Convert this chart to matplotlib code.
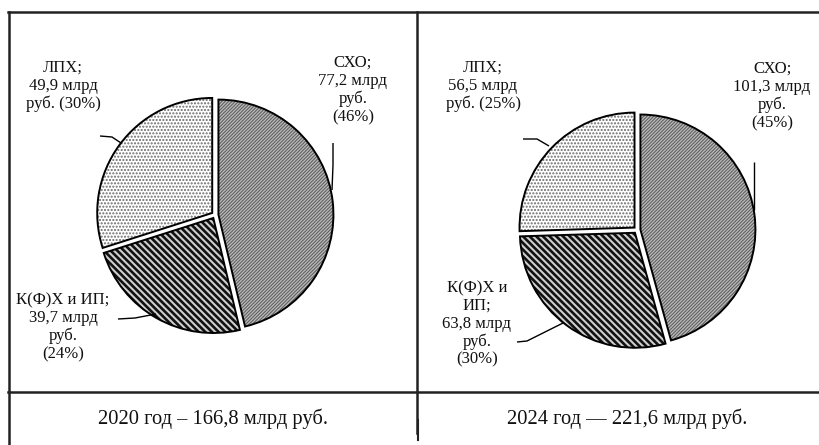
import matplotlib
matplotlib.use("Agg")
import matplotlib.pyplot as plt
import numpy as np

# ---- data ----
categories = ["СХО", "К(Ф)Х и ИП", "ЛПХ"]
values_2020 = [77.2, 39.7, 49.9]
values_2024 = [101.3, 63.8, 56.5]
pct_2020 = [46, 24, 30]
pct_2024 = [45, 30, 25]
labels_2020 = ["СХО;\n77,2 млрд\nруб.\n(46%)",
               "К(Ф)Х и ИП;\n39,7 млрд\nруб.\n(24%)",
               "ЛПХ;\n49,9 млрд\nруб. (30%)"]
labels_2024 = ["СХО;\n101,3 млрд\nруб.\n(45%)",
               "К(Ф)Х и\nИП;\n63,8 млрд\nруб.\n(30%)",
               "ЛПХ;\n56,5 млрд\nруб. (25%)"]
captions = ["2020 год – 166,8 млрд руб.", "2024 год — 221,6 млрд руб."]

plt.rcParams['font.family'] = ['Liberation Serif', 'DejaVu Serif']

W, H = 820, 445
DPI = 100
fig = plt.figure(figsize=(W / DPI, H / DPI), dpi=DPI)
fig.patch.set_facecolor('white')

R = 115.0  # pixel radius of pie

styles = [
    dict(face='#bdbdbd', hatch='/' * 10, hcolor='#5e5e5e', hlw=0.8),
    dict(face='#cfcfcf', hatch='\\' * 5, hcolor='#111111', hlw=1.9),
    dict(face='white', hatch='.' * 5, hcolor='#6a6a6a', hlw=1.0),
]


def make_axes(x0, x1, y0, y1, cx, cy):
    ax = fig.add_axes([x0 / W, 1 - y1 / H, (x1 - x0) / W, (y1 - y0) / H])
    ax.set_axis_off()
    return ax, (lambda px: (px - cx) / R), (lambda py: (cy - py) / R)


def draw_pie(ax, fx, fy, x0, x1, y0, y1, values, labels, label_pos, leaders):
    explode = [0.03] * len(values)
    wedges, _ = ax.pie(values, startangle=90, counterclock=False,
                       explode=explode, radius=1.0)
    for w, st in zip(wedges, styles):
        w.set_facecolor(st['face'])
        w.set_hatch(st['hatch'])
        w.set_edgecolor(st['hcolor'])
        w.set_linewidth(0)
        if hasattr(w, 'set_hatch_linewidth'):
            w.set_hatch_linewidth(st['hlw'])
    wedges2, _ = ax.pie(values, startangle=90, counterclock=False,
                        explode=explode, radius=1.0)
    for w in wedges2:
        w.set_facecolor('none')
        w.set_edgecolor('black')
        w.set_linewidth(1.4)
    ax.set_aspect('auto')
    ax.set_xlim(fx(x0), fx(x1))
    ax.set_ylim(fy(y1), fy(y0))
    for lab, (px, py) in zip(labels, label_pos):
        ax.text(fx(px), fy(py), lab, ha='center', va='center',
                fontsize=12, linespacing=1.15, color='#111111')
    for (p1, p2, p3) in leaders:
        xs = [fx(p[0]) for p in (p1, p2, p3)]
        ys = [fy(p[1]) for p in (p1, p2, p3)]
        ax.plot(xs, ys, color='black', lw=1.0, solid_capstyle='butt')


# Pie 2020
ax1, fx1, fy1 = make_axes(8, 417, 12, 392, 215, 215)
draw_pie(ax1, fx1, fy1, 8, 417, 12, 392, values_2020, labels_2020,
         [(353, 90), (63, 327), (63, 86)],
         [((333, 143), (333, 165), (332, 190)),
          ((118, 319), (135, 318), (156, 314)),
          ((100, 136), (112, 137), (121, 143))])

# Pie 2024
ax2, fx2, fy2 = make_axes(417, 820, 12, 392, 637, 230)
draw_pie(ax2, fx2, fy2, 417, 820, 12, 392, values_2024, labels_2024,
         [(772, 96), (477, 324), (483, 86)],
         [((754, 162), (754, 185), (754, 210)),
          ((517, 342), (527, 341), (563, 323)),
          ((523, 139), (537, 139), (549, 146))])

# frame lines
def fline(xs, ys, lw=1.8):
    fig.add_artist(plt.Line2D([x / W for x in xs], [1 - y / H for y in ys],
                              color='#222222', lw=lw, transform=fig.transFigure))

fline([8, 820], [12, 12])
fline([8, 820], [392, 392])
fline([8.5, 8.5], [12, 445])
fline([417, 417], [12, 433])
fline([418, 418], [420, 440], lw=1.5)

fig.text(213 / W, 1 - 419 / H, captions[0], ha='center', va='center',
         fontsize=14.8, color='#111111')
fig.text(627 / W, 1 - 419 / H, captions[1], ha='center', va='center',
         fontsize=14.8, color='#111111')

fig.savefig('out.png', dpi=DPI, facecolor='white')
